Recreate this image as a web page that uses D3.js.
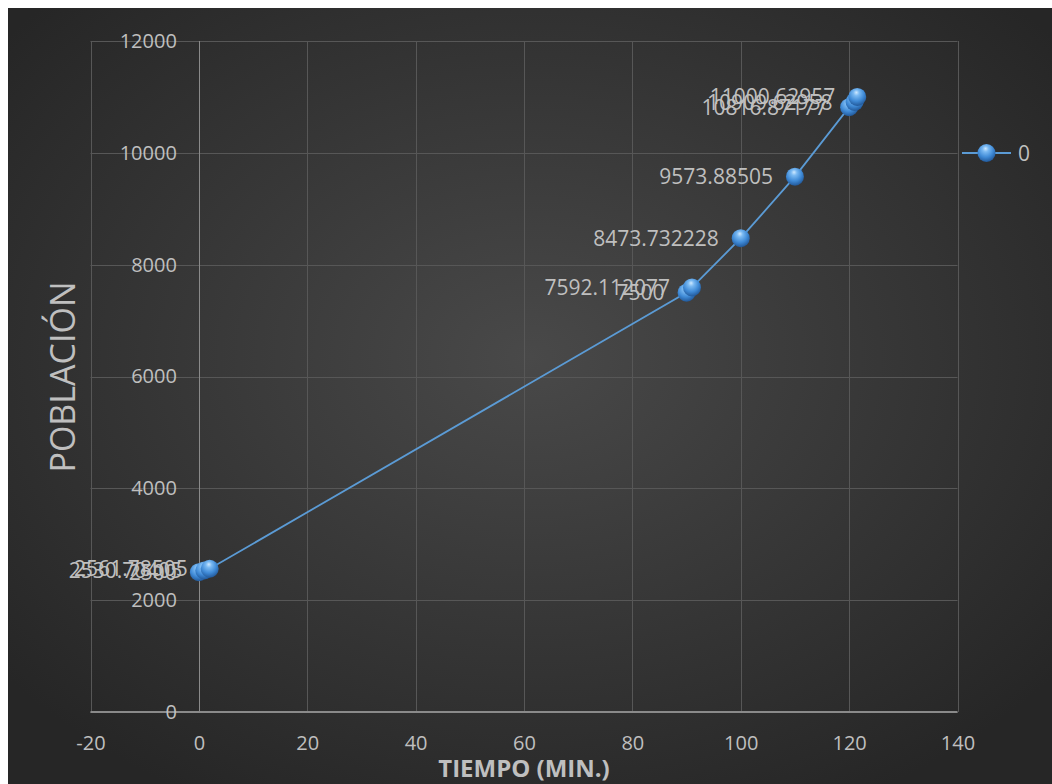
<!DOCTYPE html>
<html>
<head>
<meta charset="utf-8">
<script src="https://cdn.jsdelivr.net/npm/d3@7"></script>
<style>
  body { margin: 0; background: #fff; }
  svg { display: block; font-family: "Open Sans", "DejaVu Sans", sans-serif; }
</style>
</head>
<body>
<svg id="chart" width="1052" height="784"></svg>
<script>
// valores
const tiempo = [0, 1, 2, 90, 91, 100, 110, 120, 121, 121.5];
const poblacion = [2500, 2530.70405, 2561.78505, 7500, 7592.112077, 8473.732228, 9573.88505, 10816.87177, 10909.62958, 11000.62957];
const xTicks = [-20, 0, 20, 40, 60, 80, 100, 120, 140];
const yTicks = [0, 2000, 4000, 6000, 8000, 10000, 12000];
const serie = '0';
const tituloX = 'TIEMPO (MIN.)';
const tituloY = 'POBLACIÓN';

const puntos = tiempo.map((t, i) => ({ t, p: poblacion[i] }));

const svg = d3.select('#chart');
const width = 1052;
const height = 784;

const defs = svg.append('defs');
const fondo = defs.append('radialGradient').attr('id', 'fondo').attr('cx', '50%').attr('cy', '45%').attr('r', '65%');
fondo.append('stop').attr('offset', '0%').attr('stop-color', '#494949');
fondo.append('stop').attr('offset', '100%').attr('stop-color', '#262626');

const esfera = defs.append('radialGradient').attr('id', 'esfera').attr('cx', '45%').attr('cy', '35%').attr('r', '65%').attr('fx', '45%').attr('fy', '25%');
esfera.append('stop').attr('offset', '0%').attr('stop-color', '#cfe9ff');
esfera.append('stop').attr('offset', '25%').attr('stop-color', '#7ab9f2');
esfera.append('stop').attr('offset', '65%').attr('stop-color', '#3f8ad6');
esfera.append('stop').attr('offset', '100%').attr('stop-color', '#22599a');

svg.append('rect').attr('x', 8).attr('y', 8).attr('width', width - 8).attr('height', height - 8).attr('fill', 'url(#fondo)');

const x = d3.scaleLinear().domain([-20, 140]).range([90.5, 957.5]);
const y = d3.scaleLinear().domain([0, 12000]).range([712, 41]);

// rejilla
svg.append('g')
  .selectAll('line')
  .data(xTicks)
  .join('line')
  .attr('x1', (d) => Math.round(x(d)) + 0.5)
  .attr('x2', (d) => Math.round(x(d)) + 0.5)
  .attr('y1', y(12000))
  .attr('y2', y(0))
  .attr('stroke', '#575757')
  .attr('stroke-width', 1);
svg.append('g')
  .selectAll('line')
  .data(yTicks)
  .join('line')
  .attr('x1', x(-20))
  .attr('x2', x(140))
  .attr('y1', (d) => Math.round(y(d)) + 0.5)
  .attr('y2', (d) => Math.round(y(d)) + 0.5)
  .attr('stroke', '#575757')
  .attr('stroke-width', 1);

// ejes
svg.append('line')
  .attr('x1', Math.round(x(0)) + 0.5).attr('x2', Math.round(x(0)) + 0.5)
  .attr('y1', y(12000)).attr('y2', y(0))
  .attr('stroke', '#8a8a8a').attr('stroke-width', 1);
svg.append('line')
  .attr('x1', x(-20)).attr('x2', x(140))
  .attr('y1', y(0)).attr('y2', y(0))
  .attr('stroke', '#8a8a8a').attr('stroke-width', 2);

const ejeX = svg.append('g')
  .attr('transform', `translate(0, ${y(0)})`)
  .call(d3.axisBottom(x).tickValues(xTicks).tickFormat((d) => String(d)).tickSize(0).tickPadding(24));
const ejeY = svg.append('g')
  .attr('transform', `translate(${x(0)}, 0)`)
  .call(d3.axisLeft(y).tickValues(yTicks).tickFormat((d) => String(d)).tickSize(0).tickPadding(22));
[ejeX, ejeY].forEach((g) => {
  g.select('.domain').remove();
  g.selectAll('text').attr('fill', '#bfbfbf').attr('font-size', 20).attr('font-family', '"Open Sans", sans-serif');
});

// títulos
svg.append('text')
  .attr('x', 524)
  .attr('y', 777)
  .attr('text-anchor', 'middle')
  .attr('fill', '#bfbfbf')
  .attr('font-size', 24)
  .attr('font-weight', 'bold')
  .text(tituloX);
svg.append('text')
  .attr('transform', 'translate(75, 377) rotate(-90)')
  .attr('text-anchor', 'middle')
  .attr('fill', '#bfbfbf')
  .attr('font-size', 34)
  .text(tituloY);

// serie
const linea = d3.line().x((d) => x(d.t)).y((d) => y(d.p));
svg.append('path')
  .datum(puntos)
  .attr('d', linea)
  .attr('fill', 'none')
  .attr('stroke', '#5b9bd5')
  .attr('stroke-width', 1.8);

svg.append('g')
  .selectAll('circle')
  .data(puntos)
  .join('circle')
  .attr('cx', (d) => x(d.t))
  .attr('cy', (d) => y(d.p))
  .attr('r', 9)
  .attr('fill', 'url(#esfera)');

svg.append('g')
  .selectAll('text')
  .data(puntos)
  .join('text')
  .attr('x', (d) => x(d.t) - 22)
  .attr('y', (d) => y(d.p))
  .attr('dy', '0.36em')
  .attr('text-anchor', 'end')
  .attr('fill', '#bfbfbf')
  .attr('font-size', 21)
  .text((d) => String(d.p));

// leyenda
const leyenda = svg.append('g').attr('transform', 'translate(962, 153)');
leyenda.append('line').attr('x1', 0).attr('x2', 49).attr('y1', 0).attr('y2', 0).attr('stroke', '#5b9bd5').attr('stroke-width', 1.8);
leyenda.append('circle').attr('cx', 24.5).attr('cy', 0).attr('r', 9).attr('fill', 'url(#esfera)');
leyenda.append('text').attr('x', 56).attr('y', 0).attr('dy', '0.36em').attr('fill', '#bfbfbf').attr('font-size', 21).text(serie);
</script>
</body>
</html>
